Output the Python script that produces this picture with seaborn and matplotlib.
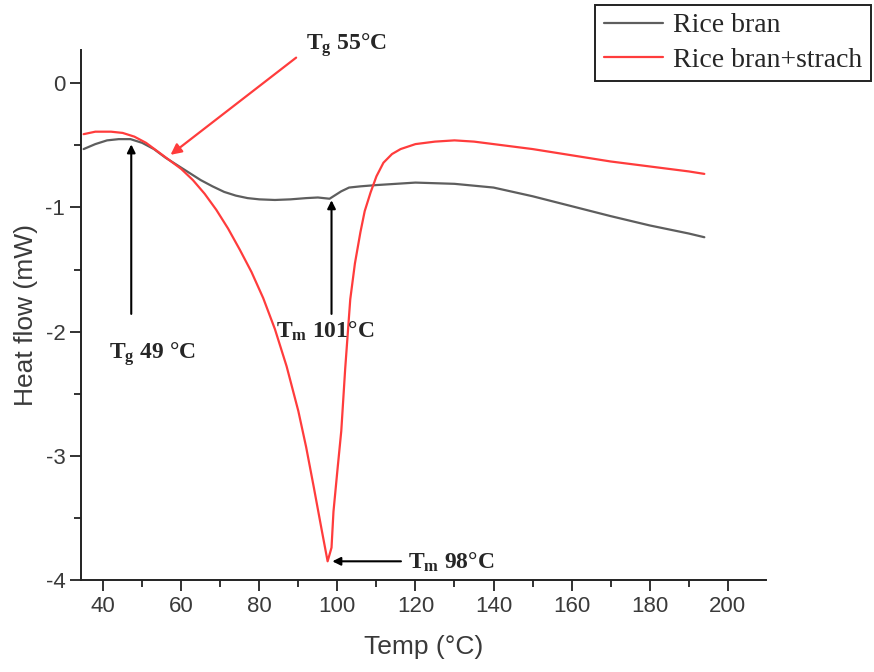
"""
plot.py

DSC thermogram: heat flow vs temperature for rice bran and rice bran + starch,
with Tg / Tm annotations.
"""

import numpy as np
import pandas as pd
import seaborn as sns
import matplotlib.pyplot as plt
from matplotlib.ticker import MultipleLocator

# -----------------------------
# Data
# -----------------------------
bran_temp = [35, 38, 41, 44, 47, 50, 53, 56, 59, 62, 65, 68, 71, 74, 77, 80,
             84, 88, 92, 95, 98, 99.5, 101, 103, 106, 110, 115, 120, 130,
             140, 150, 160, 170, 180, 190, 194]
bran_heat = [-0.53, -0.49, -0.46, -0.45, -0.45, -0.48, -0.53, -0.60, -0.66,
             -0.72, -0.78, -0.83, -0.875, -0.905, -0.925, -0.935, -0.94, -0.935,
             -0.925, -0.92, -0.93, -0.90, -0.87, -0.84, -0.83, -0.82, -0.81,
             -0.80, -0.81, -0.84, -0.91, -0.99, -1.07, -1.145, -1.21, -1.24]

starch_temp = [35, 38, 42, 45, 48, 51, 54, 57, 60, 63, 66, 69, 72, 75, 78, 81,
               84, 87, 90, 92, 94, 96, 97.5, 98.5, 99, 100, 101, 102, 103.3,
               104.5, 105.9, 107, 108.5, 110, 111.8, 114, 116.2, 120, 125, 130,
               135, 140, 150, 160, 170, 180, 190, 194]
starch_heat = [-0.41, -0.39, -0.39, -0.40, -0.43, -0.48, -0.55, -0.62, -0.69,
               -0.78, -0.89, -1.02, -1.17, -1.34, -1.52, -1.73, -1.98, -2.28,
               -2.64, -2.93, -3.26, -3.60, -3.85, -3.74, -3.45, -3.12, -2.80,
               -2.30, -1.74, -1.45, -1.20, -1.03, -0.88, -0.75, -0.64, -0.57,
               -0.53, -0.49, -0.47, -0.46, -0.47, -0.49, -0.53, -0.58, -0.63,
               -0.67, -0.71, -0.73]

labels = ["Rice bran", "Rice bran+strach"]
colors = ["#5e5e5e", "#ff3c3c"]

df = pd.concat([
    pd.DataFrame({"temp": bran_temp, "heat": bran_heat, "sample": labels[0]}),
    pd.DataFrame({"temp": starch_temp, "heat": starch_heat, "sample": labels[1]}),
], ignore_index=True)

# -----------------------------
# Style
# -----------------------------
sns.set_style("ticks")
plt.rcParams["font.family"] = ["Liberation Sans", "DejaVu Sans"]
plt.rcParams["axes.unicode_minus"] = False
plt.rcParams["mathtext.fontset"] = "custom"
plt.rcParams["mathtext.rm"] = "Liberation Serif:bold"
plt.rcParams["mathtext.it"] = "Liberation Serif:bold"
plt.rcParams["mathtext.bf"] = "Liberation Serif:bold"

fig, ax = plt.subplots(figsize=(8.74, 6.72), dpi=100)
fig.subplots_adjust(left=0.093, right=0.876, bottom=0.137, top=0.926)

sns.lineplot(data=df, x="temp", y="heat", hue="sample", palette=colors,
             estimator=None, linewidth=1.6, ax=ax)

ax.set_xlim(34.4, 209.7)
ax.set_ylim(-4, 0.27)
ax.xaxis.set_major_locator(MultipleLocator(20))
ax.xaxis.set_minor_locator(MultipleLocator(10))
ax.yaxis.set_major_locator(MultipleLocator(1))
ax.yaxis.set_minor_locator(MultipleLocator(0.5))
ax.tick_params(which="major", length=8, width=1.3, color="#222222",
               labelsize=16, labelcolor="#3a3a3a")
ax.tick_params(which="minor", length=5, width=1.3, color="#222222")
sns.despine(ax=ax)
for side in ["left", "bottom"]:
    ax.spines[side].set_linewidth(1.4)
    ax.spines[side].set_color("#222222")

ax.set_xlabel("Temp (°C)", fontsize=19, color="#3a3a3a", labelpad=13)
ax.set_ylabel("Heat flow (mW)", fontsize=19, color="#3a3a3a", labelpad=5)

# -----------------------------
# Legend (outside, top right)
# -----------------------------
leg = ax.legend(loc="upper right", bbox_to_anchor=(0.996, 0.993),
                bbox_transform=fig.transFigure, borderaxespad=0,
                frameon=True, fancybox=False,
                edgecolor="#222222", framealpha=1, borderpad=0.3,
                handlelength=2.15, handletextpad=0.35, labelspacing=0.32,
                prop={"family": "Liberation Serif", "size": 20})
leg.get_frame().set_linewidth(1.4)
for line in leg.get_lines():
    line.set_linewidth(1.6)

# -----------------------------
# Annotations
# -----------------------------
black_arrow = dict(arrowstyle="-|>", color="black", lw=1.5, mutation_scale=12)
ann_font = dict(fontsize=17, fontweight="bold", family="Liberation Serif")

ax.annotate("", xy=(56.7, -0.59), xytext=(90, 0.22), annotation_clip=False,
            arrowprops=dict(arrowstyle="-|>", color=colors[1], lw=1.6,
                            mutation_scale=16))
ax.text(92, 0.27, r"$\mathrm{T_g}$ 55°C", ha="left", va="baseline",
        clip_on=False, **ann_font)

ax.annotate("", xy=(47.2, -0.47), xytext=(47.2, -1.88), arrowprops=black_arrow)
ax.text(41.5, -2.22, r"$\mathrm{T_g}$ 49 °C", ha="left", va="baseline",
        **ann_font)

ax.annotate("", xy=(98.5, -0.92), xytext=(98.5, -1.88), arrowprops=black_arrow)
ax.text(84.3, -2.05, r"$\mathrm{T_m}$ 101°C", ha="left", va="baseline",
        **ann_font)

ax.annotate("", xy=(98.0, -3.85), xytext=(117, -3.85), arrowprops=black_arrow)
ax.text(118.2, -3.91, r"$\mathrm{T_m}$ 98°C", ha="left", va="baseline",
        **ann_font)

plt.savefig("out.png", dpi=100)
